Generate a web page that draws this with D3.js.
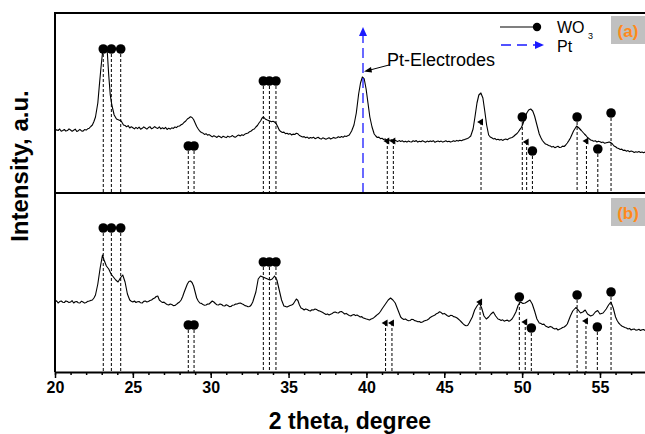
<!DOCTYPE html>
<html>
<head>
<meta charset="utf-8">
<script src="https://cdn.jsdelivr.net/npm/d3@7/dist/d3.min.js"></script>
<style>
  body { margin: 0; background: #fff; }
  text { font-family: "Liberation Sans", Arial, sans-serif; }
</style>
</head>
<body>
<svg id="chart" width="645" height="434"></svg>
<script>
// XRD pattern of sample (a): [2θ in degrees, intensity a.u.]
const patternA = [
  [20.0,62],[20.1,63.2],[20.2,62.5],[20.3,64],[20.4,61.8],[20.5,62.6],[20.6,63.5],[20.7,61.9],
  [20.8,62.4],[20.9,64.1],[21.0,63],[21.1,61.7],[21.2,62.8],[21.3,63.9],[21.4,61.5],[21.5,62.3],
  [21.6,63.6],[21.7,62.1],[21.8,61.8],[21.9,63.4],[22.0,62.9],[22.1,64.2],[22.2,64.8],[22.3,66.5],
  [22.4,68],[22.5,71.5],[22.6,76],[22.75,90],[22.85,108],[22.95,125],[23.05,140],[23.15,145],
  [23.25,146],[23.35,143],[23.45,118],[23.55,98],[23.65,88],[23.8,78],[23.95,74],[24.1,73],
  [24.25,72],[24.4,68],[24.5,67.5],[24.6,66.2],[24.7,67.4],[24.8,65],[24.9,66.3],[25.0,65.2],
  [25.1,64.1],[25.2,65.6],[25.3,64.4],[25.4,65.9],[25.5,63.8],[25.6,64.7],[25.7,66.1],[25.8,65],
  [25.9,63.9],[26.0,65.4],[26.1,66.3],[26.2,64.2],[26.3,65.1],[26.4,66.4],[26.5,65.2],[26.6,64.5],
  [26.7,66.2],[26.8,64.1],[26.9,65.3],[27.0,64.2],[27.1,65.6],[27.2,63.5],[27.3,64.8],[27.4,63.9],
  [27.5,65.2],[27.6,64.6],[27.7,66],[27.8,65.4],[27.9,66.8],[28.0,67],[28.1,68.2],[28.2,69],
  [28.3,70.8],[28.4,72],[28.5,74],[28.6,75],[28.7,76.2],[28.8,75.5],[28.9,73.5],[29.0,70],
  [29.1,66.5],[29.2,64],[29.3,61.8],[29.4,60.5],[29.5,59.9],[29.6,58.6],[29.7,59.3],[29.8,57.8],
  [29.9,58.4],[30.0,57.2],[30.1,56.1],[30.2,57.3],[30.3,56.4],[30.4,55.6],[30.5,57],[30.6,56.2],
  [30.7,55.3],[30.8,56.8],[30.9,56],[31.0,55.4],[31.1,56.9],[31.2,55.9],[31.3,56.6],[31.4,57.4],
  [31.5,56.1],[31.6,55.8],[31.7,57.2],[31.8,57.9],[31.9,57.1],[32.0,58.3],[32.1,57.6],[32.2,58.9],
  [32.3,59.5],[32.4,60],[32.5,61.3],[32.6,62],[32.7,63.4],[32.8,64],[32.9,66],[33.0,67.5],
  [33.1,70],[33.2,72],[33.3,75],[33.4,76],[33.5,74],[33.6,73.2],[33.7,72.6],[33.8,72],
  [33.9,71.2],[34.0,71.8],[34.1,71],[34.2,69.5],[34.3,66.5],[34.4,63],[34.5,61.4],[34.6,60.5],
  [34.7,60.9],[34.8,59.3],[34.9,59.8],[35.0,58.7],[35.1,59.4],[35.2,58],[35.3,58.9],[35.4,58.5],
  [35.5,59.8],[35.6,59.2],[35.7,57.5],[35.8,56.8],[35.9,56],[36.0,56.4],[36.1,55.3],[36.2,55.9],
  [36.3,54.6],[36.4,55.5],[36.5,54.9],[36.6,55.8],[36.7,54.3],[36.8,55.1],[36.9,55.7],[37.0,54.5],
  [37.1,53.9],[37.2,55.2],[37.3,54.6],[37.4,53.8],[37.5,54.4],[37.6,55.3],[37.7,54],[37.8,54.7],
  [37.9,55.6],[38.0,54.8],[38.1,55.2],[38.2,56.3],[38.3,55.6],[38.4,56.4],[38.5,55.7],[38.6,57],
  [38.7,56.5],[38.8,57.3],[38.9,58],[39.05,62],[39.2,68],[39.35,80],[39.5,99],[39.62,110],
  [39.74,116],[39.86,114],[39.98,104],[40.1,90],[40.22,76],[40.36,66],[40.5,59],[40.6,57],
  [40.7,55.5],[40.8,55.9],[40.9,54.3],[41.0,54.8],[41.1,53.5],[41.2,54.1],[41.3,53],[41.4,53.6],
  [41.5,52.6],[41.6,53.3],[41.7,52],[41.8,52.9],[41.9,52.3],[42.0,51.4],[42.1,52.4],[42.2,51.6],
  [42.3,52.3],[42.4,51.1],[42.5,51.8],[42.6,50.9],[42.7,52],[42.8,51.3],[42.9,51],[43.0,52.2],
  [43.1,51.5],[43.2,52.4],[43.3,50.9],[43.4,51.7],[43.5,51.2],[43.6,52.3],[43.7,51.6],[43.8,50.8],
  [43.9,51.9],[44.0,51.2],[44.1,52.1],[44.2,51.4],[44.3,52.3],[44.4,50.7],[44.5,51.5],[44.6,52],
  [44.7,51.2],[44.8,51.9],[44.9,50.9],[45.0,51.6],[45.1,52.2],[45.2,51.3],[45.3,51.8],[45.4,50.9],
  [45.5,51.4],[45.6,52.3],[45.7,51.6],[45.8,52.6],[45.9,51.9],[46.0,52.8],[46.1,52.2],[46.2,53.1],
  [46.3,53.4],[46.4,54.1],[46.5,54.5],[46.6,55.6],[46.7,57],[46.85,64],[46.97,76],[47.1,90],
  [47.22,98],[47.35,100],[47.48,95],[47.6,82],[47.72,68],[47.85,58],[47.95,56],[48.05,55.2],
  [48.15,54.1],[48.25,54.6],[48.35,53.2],[48.45,53.8],[48.55,52.9],[48.65,53.6],[48.75,52.6],[48.85,53.4],
  [48.95,53.9],[49.05,53.2],[49.15,54.4],[49.25,55],[49.35,55.6],[49.45,56.5],[49.55,58],[49.65,59.2],
  [49.75,61],[49.85,63.4],[49.95,65.5],[50.05,69],[50.15,74],[50.3,80],[50.42,83],[50.55,84],
  [50.68,82],[50.8,77],[50.95,68],[51.1,59],[51.2,55.5],[51.3,52.5],[51.4,50.6],[51.5,49],
  [51.6,48.4],[51.7,47.5],[51.8,47.1],[51.9,46],[52.0,46.6],[52.1,45.3],[52.2,46.1],[52.3,46.7],
  [52.4,45.5],[52.5,45.8],[52.6,46.9],[52.7,46.5],[52.8,48],[52.9,50],[53.0,52.4],[53.1,55],
  [53.3,62],[53.5,67],[53.65,65],[53.8,62.5],[54.0,59],[54.1,57.5],[54.2,55.5],[54.3,54.4],
  [54.4,53],[54.5,52.6],[54.6,51.8],[54.7,52.2],[54.8,51],[54.9,51.8],[55.0,51.3],[55.1,50.4],
  [55.2,50.9],[55.3,49.8],[55.4,50.3],[55.5,50.6],[55.6,51],[55.7,50.2],[55.8,49],[55.9,47],
  [56.0,46.2],[56.1,45],[56.2,44.4],[56.3,43.5],[56.4,43.9],[56.5,42.5],[56.6,42.9],[56.7,41.8],
  [56.8,42.4],[56.9,41.2],[57.0,42],[57.1,41.5],[57.2,40.6],[57.3,41.3],[57.4,40.7],[57.5,41.4],
  [57.6,40.5],[57.7,41],[57.8,40.3],[57.9,40.9],[58.0,40.5]
];

// XRD pattern of sample (b): [2θ in degrees, intensity a.u.]
const patternB = [
  [20.0,70],[20.1,71.2],[20.2,69],[20.3,70.4],[20.4,71],[20.5,69.8],[20.6,69.5],[20.7,71.1],
  [20.8,70.5],[20.9,69.4],[21.0,70],[21.1,71.3],[21.2,69],[21.3,70.2],[21.4,70.5],[21.5,69.2],
  [21.6,69],[21.7,70.8],[21.8,70],[21.9,68.9],[22.0,69.5],[22.1,70.6],[22.2,71],[22.3,71.6],
  [22.4,72],[22.5,74],[22.6,77],[22.75,88],[22.9,104],[23.05,117],[23.15,112],[23.3,106],
  [23.45,103],[23.6,98],[23.75,95],[23.9,92],[24.05,90],[24.2,94],[24.35,97],[24.5,90],
  [24.65,78],[24.8,72],[24.9,70.8],[25.0,70],[25.1,71],[25.2,69.5],[25.3,70.3],[25.4,70.5],
  [25.5,69.2],[25.6,69],[25.7,70.6],[25.8,71],[25.9,70.1],[26.0,70.5],[26.1,71.5],[26.2,72],
  [26.3,73.2],[26.4,74],[26.5,75.5],[26.6,76],[26.7,72],[26.8,70.6],[26.9,69.5],[27.0,69.9],
  [27.1,68.5],[27.2,67.6],[27.3,67],[27.4,68],[27.5,67.5],[27.6,66.4],[27.7,66.5],[27.8,67.6],
  [27.9,69],[28.0,70],[28.1,72],[28.2,75.5],[28.3,80],[28.4,84],[28.5,88],[28.6,90.5],
  [28.7,91],[28.8,89.5],[28.9,86],[29.0,80],[29.1,74],[29.2,71],[29.3,69],[29.4,68.6],
  [29.5,67.5],[29.6,66.8],[29.7,67],[29.8,67.9],[29.9,68],[30.0,69.5],[30.1,71],[30.2,70],
  [30.3,68.5],[30.4,67.2],[30.5,67],[30.6,68.1],[30.7,67.5],[30.8,66.3],[30.9,66],[31.0,67.2],
  [31.1,66.5],[31.2,65.4],[31.3,65.5],[31.4,66.8],[31.5,67],[31.6,67.9],[31.7,68],[31.8,68.7],
  [31.9,69],[32.0,68.2],[32.1,67.5],[32.2,66.4],[32.3,66],[32.4,65.2],[32.5,65.5],[32.6,67],
  [32.7,70],[32.9,80],[33.05,93],[33.2,96],[33.35,95],[33.5,94],[33.65,93],[33.8,92],
  [33.95,93],[34.1,96],[34.25,92],[34.4,82],[34.55,72],[34.7,66],[34.8,65.6],[34.9,65],
  [35.0,65.8],[35.1,66.5],[35.2,67],[35.3,68],[35.4,70.5],[35.5,73],[35.6,71.5],[35.7,67],
  [35.8,64],[35.9,63.2],[36.0,62],[36.1,63.1],[36.2,62.5],[36.3,61.6],[36.4,61],[36.5,62.2],
  [36.6,62],[36.7,63],[36.8,62.5],[36.9,61.4],[37.0,61],[37.1,60.3],[37.2,59.5],[37.3,58.4],
  [37.4,57.5],[37.5,58.1],[37.6,57],[37.7,57.8],[37.8,58.5],[37.9,59.6],[38.0,60],[38.1,59.2],
  [38.2,59],[38.3,60.2],[38.4,60.5],[38.5,59.4],[38.6,58],[38.7,58.6],[38.8,57.5],[38.9,56.6],
  [39.0,56],[39.1,57],[39.2,57.5],[39.3,56.4],[39.4,57],[39.5,56.1],[39.6,55],[39.7,55.4],
  [39.8,54],[39.9,53.6],[40.0,53],[40.1,52.6],[40.2,52],[40.3,52.9],[40.4,53.5],[40.5,54.6],
  [40.6,56],[40.7,57.4],[40.8,58.5],[40.9,60.5],[41.0,63],[41.2,67.5],[41.4,72],[41.55,74],
  [41.7,72],[41.85,69],[42.0,63],[42.2,55],[42.3,53.4],[42.4,52.5],[42.5,53.1],[42.6,52],
  [42.7,51.2],[42.8,51.5],[42.9,52.6],[43.0,52.5],[43.1,51.4],[43.2,51],[43.3,50.2],[43.4,50.5],
  [43.5,49.6],[43.6,50],[43.7,50.9],[43.8,51.5],[43.9,52.1],[44.0,53],[44.1,54.6],[44.2,55.5],
  [44.3,56.2],[44.4,57],[44.5,58.3],[44.6,59],[44.7,60.2],[44.8,59.4],[44.9,58],[45.0,58.6],
  [45.1,57.5],[45.2,56.3],[45.3,55.5],[45.4,56.6],[45.5,56.5],[45.6,55.4],[45.7,55],[45.8,54.2],
  [45.9,53],[46.0,51.6],[46.1,50],[46.2,48.4],[46.3,47],[46.4,46.2],[46.5,46.5],[46.6,49],
  [46.8,55],[46.95,62],[47.1,66],[47.25,69],[47.4,64],[47.55,56],[47.7,53],[47.85,55],
  [48.0,58],[48.15,60],[48.3,56],[48.45,53],[48.55,52.4],[48.65,51.6],[48.75,52.2],[48.85,50.8],
  [48.95,51.5],[49.05,51.9],[49.15,50.7],[49.25,51.6],[49.35,53],[49.45,55.5],[49.6,60],[49.75,67],
  [49.9,70],[50.05,68.5],[50.2,69],[50.35,70.5],[50.5,72],[50.65,68],[50.8,61],[50.95,53],
  [51.1,49],[51.2,48.6],[51.3,47.5],[51.4,47.9],[51.5,46],[51.6,45.3],[51.7,44.5],[51.8,45.6],
  [51.9,45],[52.0,43.8],[52.1,43],[52.2,43.6],[52.3,42],[52.4,42.8],[52.5,43.5],[52.6,44.4],
  [52.7,45],[52.8,46.2],[52.9,48],[53.1,56],[53.25,61],[53.45,64.5],[53.6,62],[53.75,59],
  [53.9,60],[54.05,62],[54.2,58],[54.4,56],[54.55,57],[54.7,60],[54.85,61.5],[55.0,58],
  [55.2,59],[55.4,63],[55.55,67],[55.7,70],[55.85,64],[56.0,55],[56.1,51.5],[56.2,49],
  [56.3,47.4],[56.4,46],[56.5,45.3],[56.6,44.5],[56.7,44],[56.8,43],[56.9,43.6],[57.0,42],
  [57.1,42.8],[57.2,43],[57.3,41.9],[57.4,42],[57.5,42.7],[57.6,41.5],[57.7,42.3],[57.8,42.5],
  [57.9,41.6],[58.0,42]
];

// Reflection markers: [2θ, marker level in a.u.]
const wo3PeaksA = [[23.10,144],[23.62,144],[24.22,144],[28.56,47],[28.93,47],[33.38,112],[33.77,112],[34.19,112],
                   [50.01,76],[50.66,42],[53.53,76],[54.86,44],[55.71,80]];
const ptPeaksA  = [[41.34,52],[41.73,52],[47.36,71],[50.29,51],[54.13,52]];
const wo3PeaksB = [[23.10,144],[23.62,144],[24.22,144],[28.56,47],[28.93,47],[33.38,110],[33.77,110],[34.19,110],
                   [49.82,75],[50.59,44],[53.53,77],[54.83,45],[55.71,80]];
const ptPeaksB  = [[41.23,49],[41.64,49],[47.30,70],[50.20,50],[54.10,51]];

// Pt electrode reflection (top panel)
const ptElectrode = 39.78;

const xMajorTicks = [20,25,30,35,40,45,50,55];
const xMinorTicks = d3.range(20, 59, 1);

const svg = d3.select("#chart");
const plotLeft = 55, plotRight = 646.7, plotTop = 13, plotMid = 193, plotBottom = 372;

const x  = d3.scaleLinear().domain([20, 58]).range([plotLeft, plotRight]);
const yA = d3.scaleLinear().domain([0, 180]).range([plotMid, plotTop]);
const yB = d3.scaleLinear().domain([0, 179]).range([plotBottom, plotMid]);

svg.append("defs").append("clipPath").attr("id", "plotclip")
  .append("rect").attr("x", plotLeft).attr("y", plotTop)
  .attr("width", 645 - plotLeft).attr("height", plotBottom - plotTop);

const plot = svg.append("g").attr("clip-path", "url(#plotclip)");

function drawPanel(pattern, wo3, pt, y, base) {
  const line = d3.line().x(d => x(d[0])).y(d => y(d[1]));
  plot.append("path").datum(pattern)
    .attr("d", line).attr("fill", "none").attr("stroke", "#000")
    .attr("stroke-width", 1.1).attr("stroke-linejoin", "round");

  const drops = wo3.concat(pt);
  plot.selectAll(null).data(drops).enter().append("line")
    .attr("x1", d => x(d[0])).attr("x2", d => x(d[0]))
    .attr("y1", d => y(d[1])).attr("y2", base)
    .attr("stroke", "#000").attr("stroke-width", 1).attr("stroke-dasharray", "3,2");

  plot.selectAll(null).data(wo3).enter().append("path")
    .attr("d", d3.symbol(d3.symbolCircle, 72))
    .attr("transform", d => `translate(${x(d[0])},${y(d[1])})`)
    .attr("fill", "#000");

  plot.selectAll(null).data(pt).enter().append("path")
    .attr("d", d3.symbol(d3.symbolTriangle, 20))
    .attr("transform", d => `translate(${x(d[0])},${y(d[1])}) rotate(-90)`)
    .attr("fill", "#000");
}

drawPanel(patternA, wo3PeaksA, ptPeaksA, yA, plotMid);
drawPanel(patternB, wo3PeaksB, ptPeaksB, yB, plotBottom);

// Pt electrode marker line with arrowhead
const px = x(ptElectrode);
svg.append("line").attr("x1", px).attr("x2", px).attr("y1", plotMid).attr("y2", 36)
  .attr("stroke", "#1a1aff").attr("stroke-width", 1.3).attr("stroke-dasharray", "10,5");
svg.append("path")
  .attr("d", `M${px},27 L${px - 4},36 L${px + 4},36 Z`).attr("fill", "#1a1aff");

// Annotation
svg.append("text").attr("x", 387).attr("y", 66).attr("font-size", 18).text("Pt-Electrodes");
svg.append("line").attr("x1", 389).attr("y1", 65).attr("x2", 370).attr("y2", 70)
  .attr("stroke", "#000").attr("stroke-width", 1);
svg.append("path").attr("d", "M364,71.5 L371,67 L372,72.5 Z").attr("fill", "#000");

// Frame lines
svg.append("line").attr("x1", plotLeft).attr("x2", 645).attr("y1", plotTop).attr("y2", plotTop)
  .attr("stroke", "#000").attr("stroke-width", 2);
svg.append("line").attr("x1", plotLeft).attr("x2", 645).attr("y1", plotMid).attr("y2", plotMid)
  .attr("stroke", "#000").attr("stroke-width", 2);
svg.append("line").attr("x1", plotLeft).attr("x2", plotLeft).attr("y1", plotTop - 1).attr("y2", plotBottom)
  .attr("stroke", "#000").attr("stroke-width", 2);

// X axis
const gMinor = svg.append("g").attr("transform", `translate(0,${plotBottom})`)
  .call(d3.axisBottom(x).tickValues(xMinorTicks).tickSize(3).tickFormat(""));
gMinor.select(".domain").remove();
gMinor.selectAll(".tick line").attr("stroke-width", 1.5);

const gMajor = svg.append("g").attr("transform", `translate(0,${plotBottom})`)
  .call(d3.axisBottom(x).tickValues(xMajorTicks).tickSize(6).tickSizeOuter(0).tickPadding(4).tickFormat(d3.format("d")));
gMajor.select(".domain").attr("stroke-width", 2);
gMajor.selectAll(".tick line").attr("stroke-width", 1.5);
gMajor.selectAll(".tick text").attr("font-size", 16).attr("font-weight", "bold")
  .attr("font-family", "'Liberation Sans', Arial, sans-serif").attr("fill", "#000");

// Axis titles
svg.append("text").attr("x", 350).attr("y", 429)
  .attr("text-anchor", "middle").attr("font-size", 23).attr("font-weight", "bold")
  .text("2 theta, degree");
svg.append("text").attr("transform", "translate(28,166) rotate(-90)")
  .attr("text-anchor", "middle").attr("font-size", 24).attr("font-weight", "bold")
  .text("Intensity, a.u.");

// Legend
const lg = svg.append("g");
lg.append("line").attr("x1", 500).attr("x2", 537).attr("y1", 27).attr("y2", 27)
  .attr("stroke", "#000").attr("stroke-width", 1.2);
lg.append("circle").attr("cx", 537).attr("cy", 27).attr("r", 4.2).attr("fill", "#000");
lg.append("text").attr("x", 557).attr("y", 33).attr("font-size", 16).text("WO");
lg.append("text").attr("x", 588).attr("y", 39).attr("font-size", 9).text("3");
lg.append("line").attr("x1", 501).attr("x2", 536).attr("y1", 45).attr("y2", 45)
  .attr("stroke", "#1a1aff").attr("stroke-width", 1.3).attr("stroke-dasharray", "10,6");
lg.append("path").attr("d", "M544,45 L535,41 L535,49 Z").attr("fill", "#1a1aff");
lg.append("text").attr("x", 557).attr("y", 51.5).attr("font-size", 16).text("Pt");

// Panel labels
function panelLabel(y0, label) {
  svg.append("rect").attr("x", 611).attr("y", y0).attr("width", 34).attr("height", 28).attr("fill", "#c0c0c0");
  svg.append("text").attr("x", 628).attr("y", y0 + 21).attr("text-anchor", "middle")
    .attr("font-size", 17).attr("font-weight", "bold").attr("fill", "#ff8a1c").text(label);
}
panelLabel(16, "(a)");
panelLabel(198, "(b)");
</script>
</body>
</html>
